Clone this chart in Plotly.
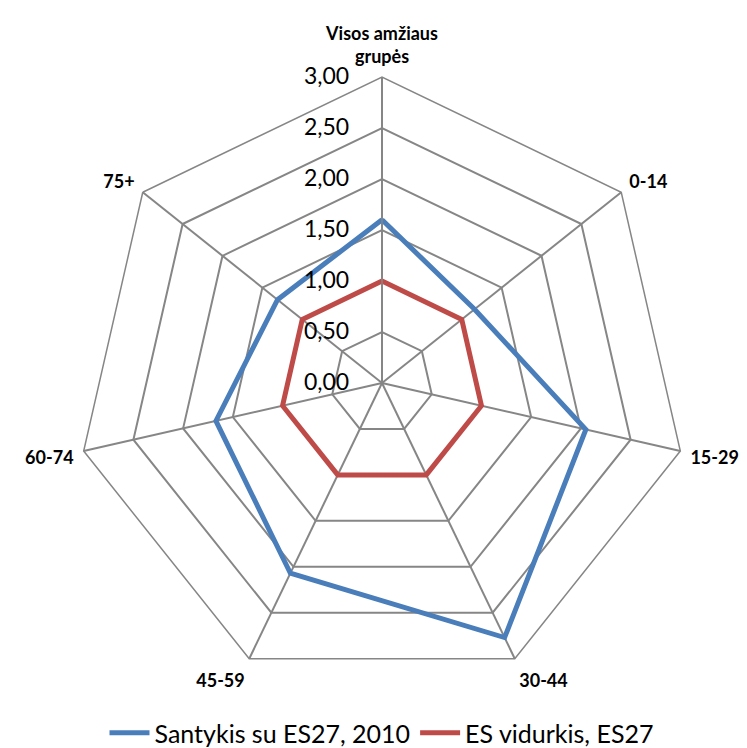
import plotly.graph_objects as go

categories = ["Visos amžiaus<br>grupės", "0-14", "15-29", "30-44", "45-59", "60-74", "75+"]
santykis = [1.60, 1.16, 2.05, 2.77, 2.07, 1.67, 1.31]
es_vidurkis = [1.00, 1.00, 1.00, 1.00, 1.00, 1.00, 1.00]
radial_ticks = [0, 0.5, 1.0, 1.5, 2.0, 2.5, 3.0]

def closed(v):
    return list(v) + [v[0]]

W, H = 747, 748
FONT = "Lato, Open Sans, sans-serif"

fig = go.Figure()
fig.add_trace(go.Scatterpolar(
    r=closed(santykis), theta=closed(categories), mode="lines",
    name="Santykis su ES27, 2010",
    line=dict(color="#4A7EBB", width=5), hoverinfo="skip"))
fig.add_trace(go.Scatterpolar(
    r=closed(es_vidurkis), theta=closed(categories), mode="lines",
    name="ES vidurkis, ES27",
    line=dict(color="#BE4B48", width=5), hoverinfo="skip"))

fig.update_layout(
    width=W, height=H,
    paper_bgcolor="white", plot_bgcolor="white",
    separators=",.",
    margin=dict(l=0, r=0, t=0, b=0),
    font=dict(family=FONT, color="black"),
    polar=dict(
        domain=dict(x=[68 / W, 680 / W], y=[(H - 681) / H, (H - 69) / H]),
        bgcolor="white",
        gridshape="linear",
        angularaxis=dict(
            rotation=90, direction="clockwise",
            categoryorder="array", categoryarray=categories,
            showline=True, linecolor="#868686", linewidth=1.5,
            gridcolor="#868686", gridwidth=1.5,
            ticks="outside", ticklen=6, tickcolor="rgba(0,0,0,0)",
            tickfont=dict(size=18, family=FONT, color="black", weight="bold"),
        ),
        radialaxis=dict(
            range=[0, 3], tickvals=radial_ticks, tickformat=".2f",
            angle=90, tickangle=90, side="counterclockwise",
            showline=True, linecolor="#868686", linewidth=1.5,
            gridcolor="#868686", gridwidth=1.5,
            ticks="outside", ticklen=24, tickcolor="rgba(0,0,0,0)",
            tickfont=dict(size=23, family=FONT, color="black"),
        ),
    ),
    showlegend=True,
    legend=dict(orientation="h", x=0.5, xanchor="center", y=0, yanchor="bottom",
                font=dict(size=25, family=FONT, color="black"),
                itemwidth=40, tracegroupgap=0),
)

fig.write_html("out.html")
